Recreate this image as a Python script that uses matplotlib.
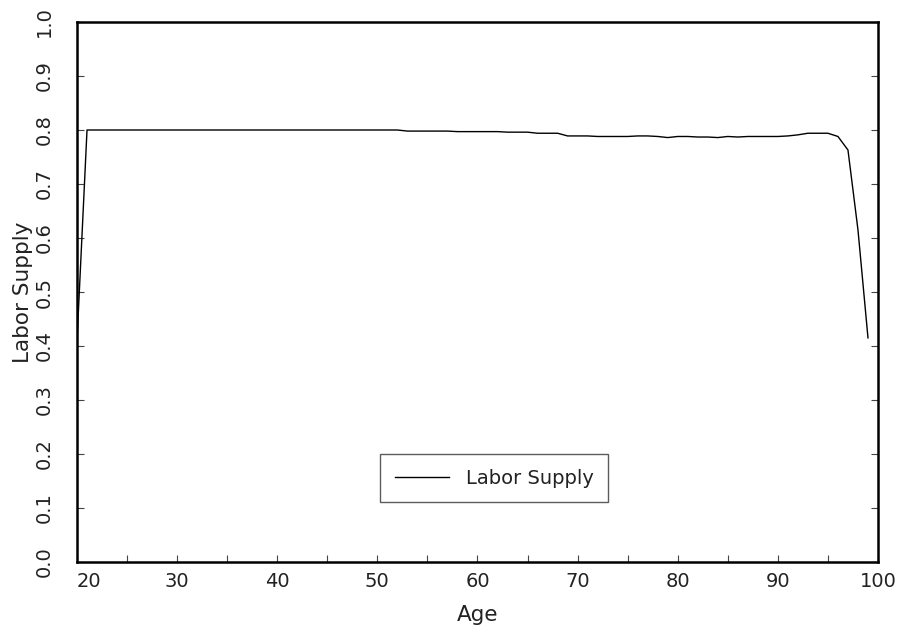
import matplotlib
matplotlib.use("Agg")
import matplotlib.pyplot as plt
import numpy as np

ages = list(range(20, 100))
labor_supply = (
    [0.410]
    + [0.800] * 32          # 21-52
    + [0.798] * 5           # 53-57
    + [0.797] * 5           # 58-62
    + [0.796] * 3           # 63-65
    + [0.794] * 3           # 66-68
    + [0.789, 0.789, 0.789, 0.788,   # 69-72
       0.788, 0.788, 0.788, 0.789, 0.789,  # 73-77
       0.788, 0.786, 0.788, 0.788, 0.787,  # 78-82
       0.787, 0.786, 0.788, 0.787, 0.788,  # 83-87
       0.788, 0.788, 0.788, 0.789, 0.791,  # 88-92
       0.794, 0.794, 0.794, 0.788, 0.763,  # 93-97
       0.615, 0.415]                       # 98-99
)

xticks = [20, 30, 40, 50, 60, 70, 80, 90, 100]
yticks = [round(0.1 * i, 1) for i in range(11)]

plt.rcParams['font.family'] = ['DejaVu Sans']

fig = plt.figure(figsize=(9.04, 6.39), dpi=100)
ax = fig.add_axes([77 / 904, 77 / 639, 801 / 904, 540 / 639])

ax.plot(ages, labor_supply, color='black', linewidth=1.0, label='Labor Supply')

ax.set_xlim(20, 100)
ax.set_ylim(0, 1.0)

for s in ax.spines.values():
    s.set_linewidth(1.8)

ax.set_xticks(xticks)
ax.set_xticks(np.arange(25, 100, 10), minor=True)
ax.set_yticks(yticks)
ax.tick_params(axis='both', which='both', direction='in', length=5, width=0.8,
               color='#444444', labelsize=14, labelcolor='#222222')
ax.tick_params(axis='y', which='both', right=True, labelrotation=90)
ax.tick_params(axis='x', pad=7)
ax.tick_params(axis='y', pad=17)

ax.set_xticklabels([str(t) for t in xticks])
ax.set_yticklabels([f"{t:.1f}" for t in yticks], va='center')
ax.get_xticklabels()[0].set_horizontalalignment('left')

ax.set_xlabel('Age', fontsize=15.5, color='#222222')
ax.xaxis.set_label_coords(0.5, (562 - 605) / 540)
ax.xaxis.label.set_va('top')
ax.set_ylabel('Labor Supply', fontsize=15.5, color='#222222')
ax.yaxis.set_label_coords((33 - 77) / 801, 0.5)

leg = ax.legend(loc='center', bbox_to_anchor=((494 - 77) / 801, (562 - 478) / 540),
                frameon=True, fancybox=False, fontsize=14,
                handlelength=2.8, borderpad=0.75, handletextpad=0.85,
                borderaxespad=0)
leg.get_frame().set_edgecolor('#333333')
leg.get_frame().set_linewidth(1.0)
for t in leg.get_texts():
    t.set_color('#222222')

fig.savefig('out.png', dpi=100)
